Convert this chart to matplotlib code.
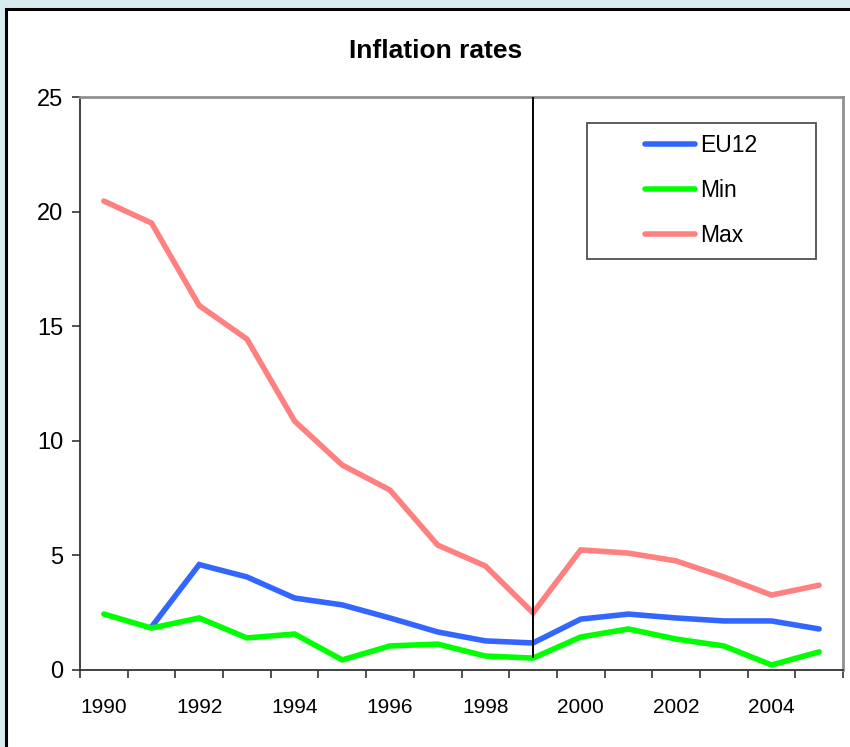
import matplotlib
matplotlib.use('Agg')
import matplotlib.pyplot as plt
from matplotlib.patches import Rectangle
import numpy as np

plt.rcParams['font.family'] = ['Liberation Sans', 'DejaVu Sans']

# ── Data ───────────────────────────────────────────────────────────────────
years = [1990, 1991, 1992, 1993, 1994, 1995, 1996, 1997,
         1998, 1999, 2000, 2001, 2002, 2003, 2004, 2005]
eu12 = [np.nan, 1.88, 4.6, 4.06, 3.14, 2.84, 2.27, 1.66,
        1.27, 1.18, 2.22, 2.44, 2.27, 2.14, 2.14, 1.79]
min_vals = [2.44, 1.83, 2.27, 1.4, 1.57, 0.44, 1.05, 1.13,
            0.61, 0.52, 1.44, 1.79, 1.35, 1.05, 0.22, 0.79]
max_vals = [20.46, 19.5, 15.9, 14.44, 10.86, 8.94, 7.85, 5.45,
            4.54, 2.49, 5.24, 5.1, 4.76, 4.06, 3.27, 3.7]
euro_year = 1999
y_ticks = [0, 5, 10, 15, 20, 25]

W, H = 850, 747
fig = plt.figure(figsize=(W / 100, H / 100), dpi=100)
fig.patch.set_facecolor('#d7ecef')

# white chart frame with black border (behind the axes)
frame = Rectangle((6 / W, -0.05), 1.1, 1 - 9 / H + 0.05,
                  transform=fig.transFigure, facecolor='white',
                  edgecolor='black', linewidth=2.2, zorder=-10)
fig.patches.append(frame)

ax = fig.add_axes([80 / W, 77 / H, 763 / W, 573 / H])
ax.set_facecolor('white')
x = np.arange(len(years))

ax.plot(x, eu12, color='#3366ff', lw=4, solid_capstyle='round', solid_joinstyle='miter', label='EU12', zorder=3)
ax.plot(x, min_vals, color='#00ff00', lw=4, solid_capstyle='round', solid_joinstyle='miter', label='Min', zorder=3)
ax.plot(x, max_vals, color='#ff8080', lw=4, solid_capstyle='round', solid_joinstyle='miter', label='Max', zorder=3)

# euro introduction marker
ei = years.index(euro_year)
ax.vlines(ei, min_vals[ei], y_ticks[-1], color='black', lw=1.4, zorder=4)

ax.set_xlim(-0.5, len(years) - 0.5)
ax.set_ylim(0, 25)

# category axis: tick marks between categories, labels on every other year
ax.set_xticks(np.arange(len(years) + 1) - 0.5)
ax.set_xticklabels([])
ax.set_xticks(x[::2], minor=True)
ax.set_xticklabels([str(y) for y in years[::2]], minor=True, fontsize=15)
ax.tick_params(axis='x', which='major', direction='out', length=6, width=1.2, color='#333333')
ax.tick_params(axis='x', which='minor', length=0, pad=20)

ax.set_yticks(y_ticks)
ax.set_yticklabels([str(v) for v in y_ticks], fontsize=17)
ax.tick_params(axis='y', direction='out', length=6, width=1.2, color='#333333', pad=6)

for s in ['left', 'bottom']:
    ax.spines[s].set_color('#333333')
    ax.spines[s].set_linewidth(1.3)
for s in ['top', 'right']:
    ax.spines[s].set_color('#909090')
    ax.spines[s].set_linewidth(2)

fig.text(436 / W, 1 - 51 / H, 'Inflation rates', ha='center', va='center',
         fontsize=19, fontweight='bold')

# legend: own frame plus frameless legend inside
ax.add_patch(Rectangle((587 / W, 1 - 259 / H), 229 / W, 136 / H,
                       transform=fig.transFigure, facecolor='white',
                       edgecolor='#505050', linewidth=1.3, zorder=5))
leg = ax.legend(loc='upper left', bbox_to_anchor=(645 / W, 1 - 134 / H),
                bbox_transform=fig.transFigure, frameon=False, borderpad=0,
                borderaxespad=0, handlelength=2.2, handletextpad=0.2,
                labelspacing=0.95, fontsize=16.5)
leg.set_zorder(6)

fig.savefig('out.png', dpi=100, facecolor=fig.get_facecolor())
